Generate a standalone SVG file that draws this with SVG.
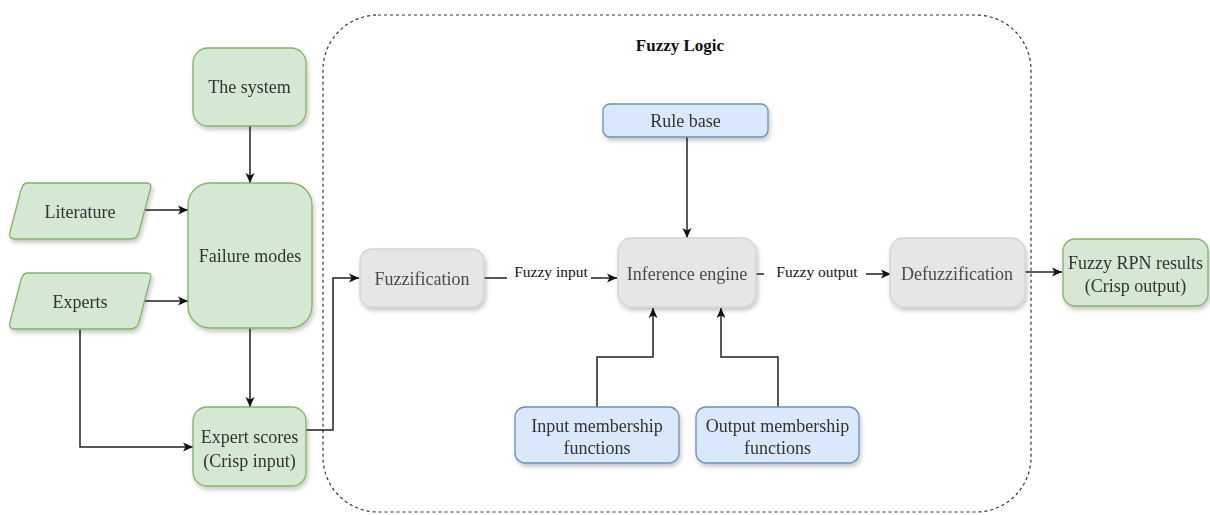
<svg xmlns="http://www.w3.org/2000/svg" width="1210" height="515" viewBox="0 0 1210 515">
<style>
.t{font-family:"Liberation Serif","Times New Roman",serif;font-size:18px;fill:#333;text-anchor:middle}
.tg{fill:#4a4a4a}
.lbl{font-family:"Liberation Serif","Times New Roman",serif;font-size:15.5px;fill:#111;text-anchor:middle}
.title{font-family:"Liberation Serif","Times New Roman",serif;font-size:17px;font-weight:bold;fill:#111;text-anchor:middle}
.g{fill:#d5e8d4;stroke:#82b366;stroke-width:1.3}
.b{fill:#dae8fc;stroke:#6c8ebf;stroke-width:1.3}
.gr{fill:#e6e6e6;stroke:#d3d3d3;stroke-width:1.3}
.c{fill:none;stroke:#222;stroke-width:1.5;marker-end:url(#ah)}
</style>
<defs>
<marker id="ah" viewBox="0 0 10 10" refX="10" refY="5" markerWidth="10" markerHeight="10" markerUnits="userSpaceOnUse" orient="auto">
<path d="M0,0.5 L10,5 L0,9.5 L2.5,5 Z" fill="#111"/>
</marker>
<filter id="sh" x="-10%" y="-10%" width="130%" height="140%">
<feDropShadow dx="1.5" dy="3" stdDeviation="2" flood-color="#000" flood-opacity="0.22"/>
</filter>
</defs>
<rect width="1210" height="515" fill="#fff"/>

<g id="fuzzy-logic-container">
<rect x="323" y="15" width="708" height="497" rx="55" fill="none" stroke="#333" stroke-width="1.2" stroke-dasharray="3,3"/>
<text class="title" x="680" y="51">Fuzzy Logic</text>
</g>

<g id="connectors">
<path class="c" d="M250,126 V183"/>
<path class="c" d="M145,210 H188"/>
<path class="c" d="M145,301 H188"/>
<path class="c" d="M250,328 V407"/>
<path class="c" d="M80,329 V447 H193"/>
<path class="c" d="M306,430 H333 V278 H359"/>
<path class="c" d="M687,137 V238"/>
<path class="c" d="M484,278 H617"/>
<rect x="507" y="262" width="84" height="24" fill="#fff"/>
<text class="lbl" x="551" y="277">Fuzzy input</text>
<path class="c" d="M756,274 H891"/>
<rect x="764" y="260" width="102" height="24" fill="#fff"/>
<text class="lbl" x="817" y="277">Fuzzy output</text>
<path class="c" d="M597,407 V357 H653 V308"/>
<path class="c" d="M778,407 V357 H721 V308"/>
<path class="c" d="M1023,272 H1062"/>
</g>

<g id="the-system" filter="url(#sh)">
<rect class="g" x="193" y="48" width="113" height="78" rx="15"/>
<text class="t" x="249.5" y="93">The system</text>
</g>

<g id="literature" filter="url(#sh)">
<path class="g" d="M27,183 H146 Q153,183 150,190 L139,232 Q137,239 130,239 H15 Q8,239 10,232 L21,190 Q23,183 27,183 Z"/>
<text class="t" x="80" y="218">Literature</text>
</g>

<g id="experts" filter="url(#sh)">
<path class="g" d="M27,273 H146 Q153,273 150,280 L139,322 Q137,329 130,329 H15 Q8,329 10,322 L21,280 Q23,273 27,273 Z"/>
<text class="t" x="80" y="308">Experts</text>
</g>

<g id="failure-modes" filter="url(#sh)">
<rect class="g" x="188" y="183" width="124" height="145" rx="22"/>
<text class="t" x="250" y="262">Failure modes</text>
</g>

<g id="expert-scores" filter="url(#sh)">
<rect class="g" x="193" y="407" width="113" height="79" rx="14"/>
<text class="t" x="249.5" y="443">Expert scores</text>
<text class="t" x="249.5" y="467">(Crisp input)</text>
</g>

<g id="fuzzification" filter="url(#sh)">
<rect class="gr" x="360" y="249" width="124" height="58" rx="12"/>
<text class="t tg" x="422" y="285">Fuzzification</text>
</g>

<g id="rule-base" filter="url(#sh)">
<rect class="b" x="603" y="104" width="165" height="33" rx="7"/>
<text class="t" x="685.5" y="127">Rule base</text>
</g>

<g id="inference-engine" filter="url(#sh)">
<rect class="gr" x="618" y="238" width="138" height="69" rx="14"/>
<text class="t tg" x="687" y="280">Inference engine</text>
</g>

<g id="defuzzification" filter="url(#sh)">
<rect class="gr" x="890" y="238" width="135" height="69" rx="14"/>
<text class="t tg" x="957" y="280">Defuzzification</text>
</g>

<g id="input-membership-functions" filter="url(#sh)">
<rect class="b" x="515" y="407" width="164" height="56" rx="10"/>
<text class="t" x="597" y="432">Input membership</text>
<text class="t" x="597" y="454">functions</text>
</g>

<g id="output-membership-functions" filter="url(#sh)">
<rect class="b" x="696" y="407" width="163" height="56" rx="10"/>
<text class="t" x="777.5" y="432">Output membership</text>
<text class="t" x="777.5" y="454">functions</text>
</g>

<g id="fuzzy-rpn-results" filter="url(#sh)">
<rect class="g" x="1063" y="239" width="145" height="67" rx="12"/>
<text class="t" x="1135.5" y="269">Fuzzy RPN results</text>
<text class="t" x="1135.5" y="292">(Crisp output)</text>
</g>
</svg>
